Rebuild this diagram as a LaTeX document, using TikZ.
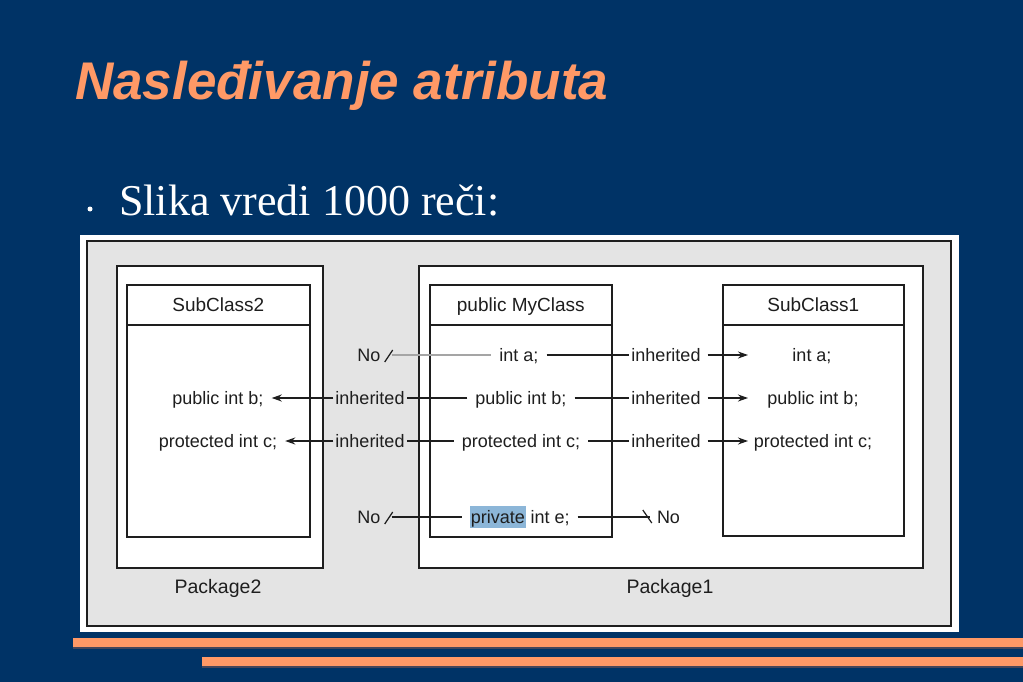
\documentclass[tikz,border=0pt]{standalone}
\usepackage{fontspec}
\setmainfont{Liberation Serif}
\newfontfamily\titlefont{Liberation Sans}
\newfontfamily\diafont{Liberation Sans}
\usetikzlibrary{arrows.meta}
\definecolor{bgblue}{RGB}{0,51,102}
\definecolor{slideorange}{RGB}{255,153,102}
\definecolor{barshadow}{RGB}{70,70,90}
\definecolor{panelgray}{RGB}{228,228,228}
\definecolor{inkdark}{RGB}{30,30,30}
\definecolor{hlblue}{RGB}{140,182,216}
\definecolor{lightline}{RGB}{165,165,165}
\newcommand\hlpriv[1]{{\setlength{\fboxsep}{0pt}\colorbox{hlblue}{\rule[-4pt]{0pt}{22pt}\hspace{0.5pt}#1\hspace{0.5pt}}}}
\begin{document}
\begin{tikzpicture}[x=1pt,y=-1pt,
  boxnode/.style={draw=inkdark, line width=1.6pt, fill=white, anchor=north west, inner sep=0pt},
  headnode/.style={draw=inkdark, line width=1.6pt, anchor=north west, inner sep=0pt,
     minimum height=40pt, text height=14pt, text depth=0pt, text=inkdark,
     font=\diafont\fontsize{19}{22}\selectfont},
  pkglabel/.style={text=inkdark, font=\diafont\fontsize{19.5}{22}\selectfont, inner sep=0pt},
  rowtext/.style={text=inkdark, font=\diafont\fontsize{18}{20}\selectfont,
     text height=13pt, text depth=0pt, inner ysep=0pt, inner xsep=8pt},
  lbl/.style={rowtext, inner xsep=2pt},
  conn/.style={draw=inkdark, line width=1.2pt},
  arr/.style={conn, -{Stealth[length=10pt,width=7pt]}},
]
\fill[bgblue] (0,0) rectangle (1023,682);
\useasboundingbox (0,0) rectangle (1023,682);

% title and bullet
\node[anchor=base west, text=slideorange, inner sep=0pt,
      font=\titlefont\bfseries\itshape\fontsize{53}{60}\selectfont] (title) at (75,100) {Nasleđivanje atributa};
\node[circle, fill=white, inner sep=0pt, minimum size=5pt] (dot) at (90,209) {};
\node[anchor=base west, text=white, inner sep=0pt, font=\fontsize{44}{50}\selectfont] (bullet) at (119,215) {Slika vredi 1000 reči:};

% bottom bars
\fill[barshadow] (73,639.5) rectangle (1023,648.5);
\fill[slideorange] (73,638) rectangle (1023,647);
\fill[barshadow] (202,658.5) rectangle (1023,667.5);
\fill[slideorange] (202,657) rectangle (1023,666);

% diagram frame
\node[fill=white, anchor=north west, inner sep=0pt, minimum width=879pt, minimum height=397pt] (frame) at (80,235) {};
\node[draw=inkdark, line width=1.6pt, fill=panelgray, anchor=north west, inner sep=0pt,
      minimum width=864pt, minimum height=385pt] (panel) at (86,240) {};

% packages
\node[boxnode, minimum width=206pt, minimum height=302pt] (pkg2) at (116,265) {};
\node[boxnode, minimum width=504pt, minimum height=302pt] (pkg1) at (418,265) {};
\node[pkglabel] (pkg2lbl) at (218,588) {Package2};
\node[pkglabel] (pkg1lbl) at (670,588) {Package1};

% classes
\node[boxnode, minimum width=183pt, minimum height=252pt] (sub2) at (126,284) {};
\node[headnode, minimum width=183pt] (sub2h) at (126,284) {SubClass2};
\node[boxnode, minimum width=182pt, minimum height=252pt] (mycls) at (429,284) {};
\node[headnode, minimum width=182pt] (myclsh) at (429,284) {public MyClass};
\node[boxnode, minimum width=181pt, minimum height=251pt] (sub1) at (722,284) {};
\node[headnode, minimum width=181pt] (sub1h) at (722,284) {SubClass1};

% row texts
\node[rowtext] (mA) at (519,355) {int a;};
\node[rowtext] (mB) at (521,398) {public int b;};
\node[rowtext] (mC) at (521,441) {protected int c;};
\node[rowtext] (mE) at (520,517) {\hlpriv{private} int e;};
\node[rowtext] (rA) at (812,355) {int a;};
\node[rowtext] (rB) at (813,398) {public int b;};
\node[rowtext] (rC) at (813,441) {protected int c;};
\node[rowtext] (lB) at (218,398) {public int b;};
\node[rowtext] (lC) at (218,441) {protected int c;};

% labels
\node[lbl] (iRA) at (666,355) {inherited};
\node[lbl] (iRB) at (666,398) {inherited};
\node[lbl] (iRC) at (666,441) {inherited};
\node[lbl] (iLB) at (370,398) {inherited};
\node[lbl] (iLC) at (370,441) {inherited};
\node[lbl] (noLA) at (369,355) {No};
\node[lbl] (noLE) at (369,517) {No};
\node[lbl] (noRE) at (668.5,517) {No};

% arrow tip positions in SubClass1
\coordinate (tA) at (748,355);
\coordinate (tB) at (748,398);
\coordinate (tC) at (748,441);

% row a
\draw[draw=lightline, line width=1.2pt] ([xshift=9pt]noLA.east) -- (mA.west);
\draw[conn] ([shift={(2,7)}]noLA.east) -- ([shift={(10,-5)}]noLA.east);
\draw[conn] (mA.east) -- (iRA.west);
\draw[arr] ([xshift=5pt]iRA.east) -- (tA);

% row b
\draw[arr] (iLB.west) -- (lB.east);
\draw[conn] (mB.west) -- (iLB.east);
\draw[conn] (mB.east) -- (iRB.west);
\draw[arr] ([xshift=5pt]iRB.east) -- (tB);

% row c
\draw[arr] (iLC.west) -- (lC.east);
\draw[conn] (mC.west) -- (iLC.east);
\draw[conn] (mC.east) -- (iRC.west);
\draw[arr] ([xshift=5pt]iRC.east) -- (tC);

% row e
\draw[conn] ([xshift=9pt]noLE.east) -- (mE.west);
\draw[conn] ([shift={(2,7)}]noLE.east) -- ([shift={(10,-5)}]noLE.east);
\draw[conn] (mE.east) -- ([xshift=-5pt]noRE.west);
\draw[conn] ([shift={(-12,-7)}]noRE.west) -- ([shift={(-3,6)}]noRE.west);
\end{tikzpicture}
\end{document}
